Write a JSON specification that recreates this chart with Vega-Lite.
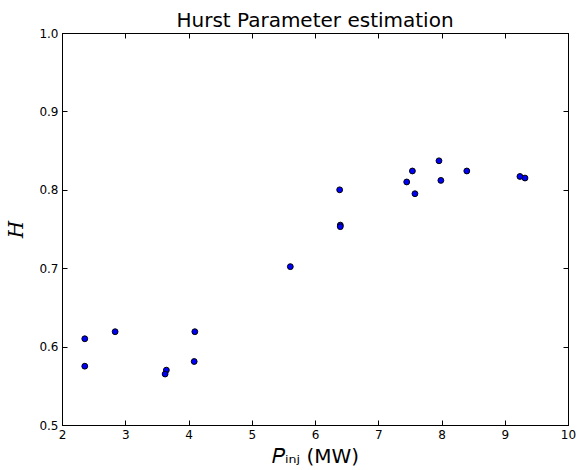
{
  "$schema": "https://vega.github.io/schema/vega-lite/v6.json",
  "autosize": {"type": "none"},
  "padding": {"left": 62, "top": 33, "right": 9, "bottom": 45},
  "width": 506,
  "height": 392,
  "background": "white",
  "title": {"text": "Hurst Parameter estimation", "font": "DejaVu Sans", "fontSize": 20, "fontWeight": "normal", "color": "black", "offset": -4, "anchor": "middle"},
  "config": {
    "view": {"stroke": "black", "strokeWidth": 1},
    "axis": {"grid": false, "domainColor": "black", "tickColor": "black", "labelColor": "black", "labelFont": "DejaVu Sans", "labelFontSize": 12, "tickSize": -5, "labelPadding": 9, "labelFlush": false, "labelOverlap": false}
  },
  "data": {"values": [
    {"p": 2.36, "h": 0.610},
    {"p": 2.36, "h": 0.575},
    {"p": 2.84, "h": 0.619},
    {"p": 3.65, "h": 0.570},
    {"p": 3.63, "h": 0.565},
    {"p": 4.10, "h": 0.619},
    {"p": 4.09, "h": 0.581},
    {"p": 5.61, "h": 0.702},
    {"p": 6.39, "h": 0.800},
    {"p": 6.40, "h": 0.755},
    {"p": 6.40, "h": 0.753},
    {"p": 7.45, "h": 0.810},
    {"p": 7.54, "h": 0.824},
    {"p": 7.58, "h": 0.795},
    {"p": 7.96, "h": 0.837},
    {"p": 7.99, "h": 0.812},
    {"p": 8.40, "h": 0.824},
    {"p": 9.24, "h": 0.817},
    {"p": 9.32, "h": 0.815}
  ]},
  "layer": [
    {
      "mark": {"type": "point", "filled": true, "fill": "#0000ff", "stroke": "black", "strokeWidth": 1, "size": 34, "opacity": 1},
      "encoding": {
        "x": {"field": "p", "type": "quantitative", "scale": {"domain": [2, 10], "nice": false, "zero": false},
              "axis": {"orient": "bottom", "values": [2,3,4,5,6,7,8,9,10], "format": "d", "title": "𝑃ᵢₙⱼ (MW)", "titleFont": "DejaVu Sans", "titleFontWeight": "normal", "titleFontSize": 20, "titleColor": "black", "titlePadding": 6}},
        "y": {"field": "h", "type": "quantitative", "scale": {"domain": [0.5, 1.0], "nice": false, "zero": false},
              "axis": {"orient": "left", "values": [0.5,0.6,0.7,0.8,0.9,1.0], "format": ".1f", "title": "H", "titleFont": "DejaVu Serif", "titleFontStyle": "italic", "titleFontWeight": "normal", "titleFontSize": 20, "titleColor": "black", "titlePadding": 12}}
      }
    },
    {
      "mark": {"type": "point", "opacity": 0},
      "encoding": {
        "x": {"field": "p", "type": "quantitative", "scale": {"domain": [2, 10], "nice": false, "zero": false},
              "axis": {"orient": "top", "values": [2,3,4,5,6,7,8,9,10], "labels": false, "title": null}},
        "y": {"field": "h", "type": "quantitative", "scale": {"domain": [0.5, 1.0], "nice": false, "zero": false},
              "axis": {"orient": "right", "values": [0.5,0.6,0.7,0.8,0.9,1.0], "labels": false, "title": null}}
      }
    }
  ],
  "resolve": {"axis": {"x": "independent", "y": "independent"}}
}
